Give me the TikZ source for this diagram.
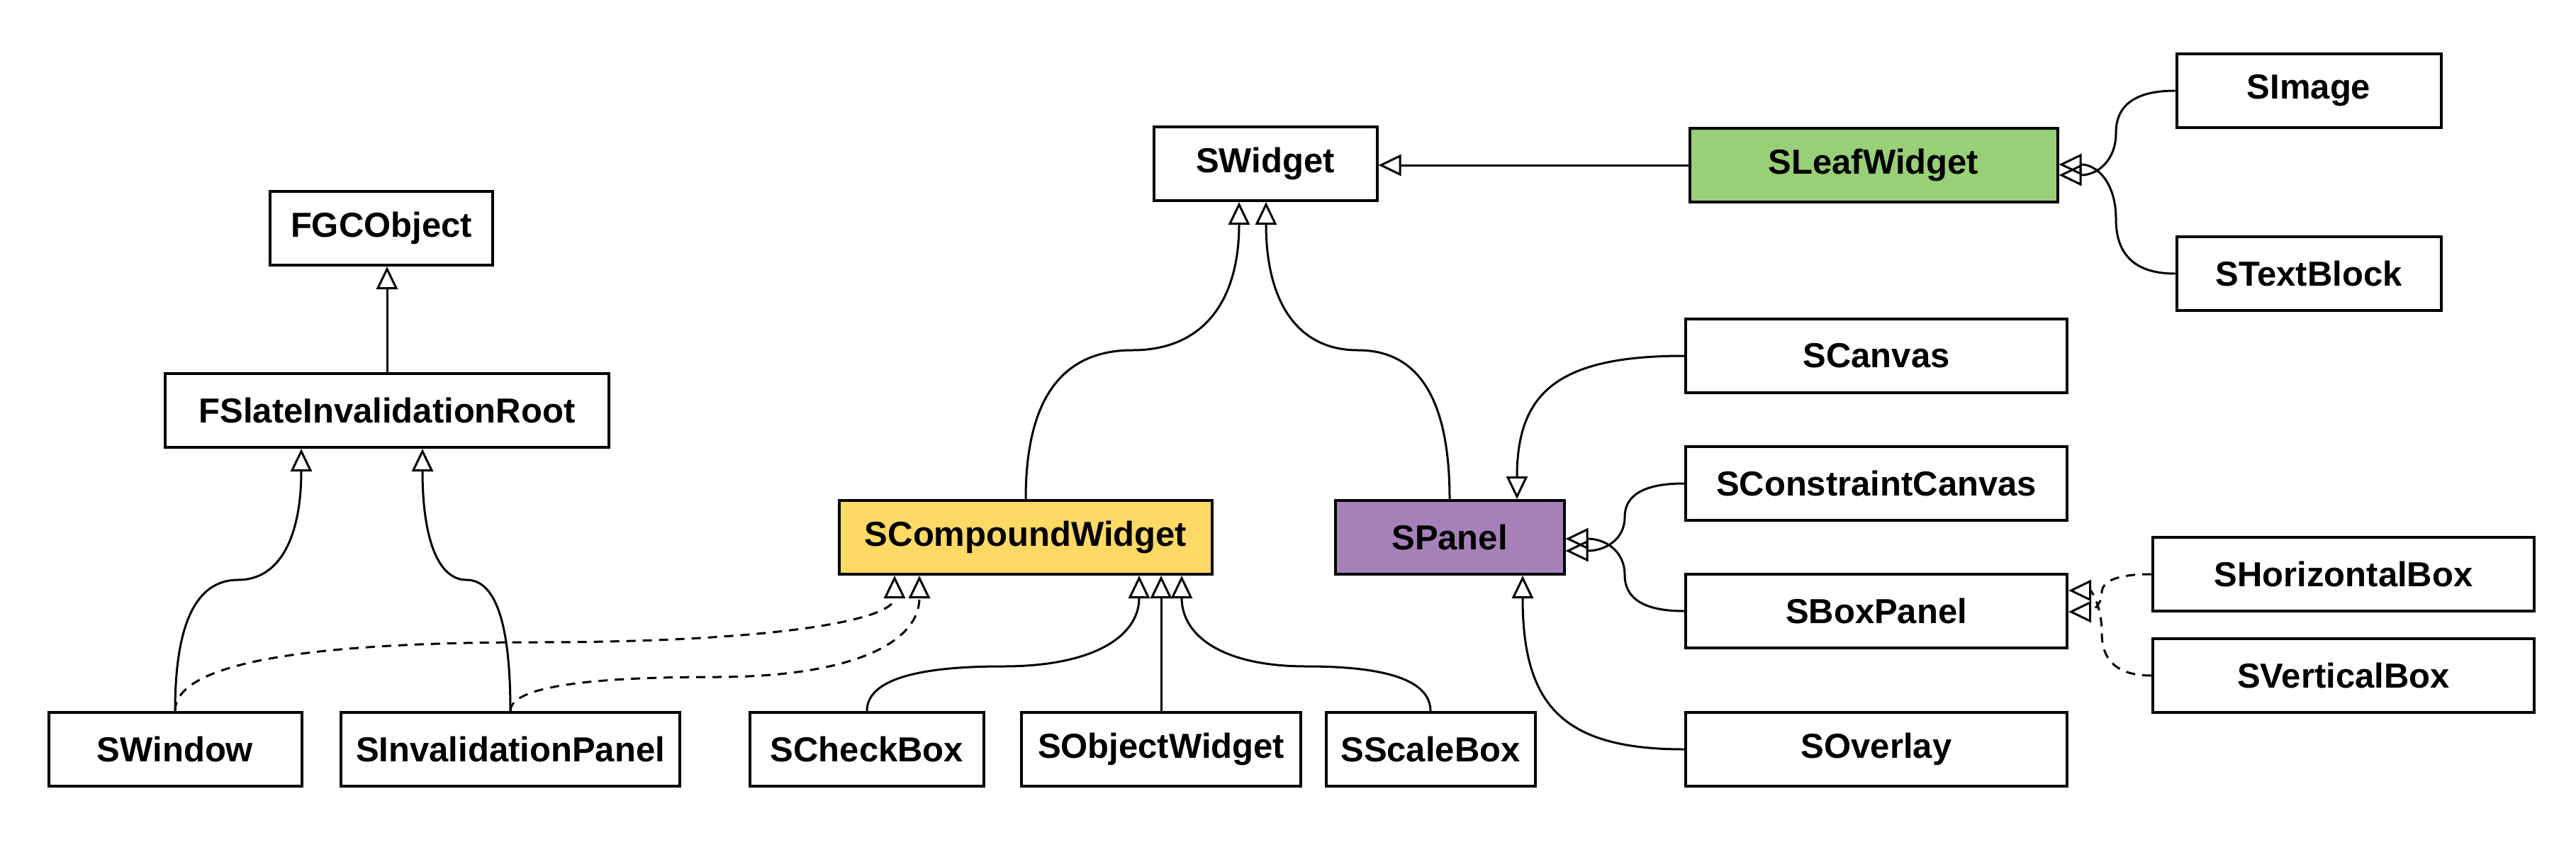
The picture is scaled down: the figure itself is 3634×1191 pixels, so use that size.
\documentclass[tikz,border=0pt]{standalone}
\usepackage{fontspec}
\setmainfont{Liberation Sans}
\usepackage{xcolor}
\usepackage{tikz}
\usetikzlibrary{arrows.meta}
\usetikzlibrary{calc}
\usetikzlibrary{positioning}

\definecolor{leafgreen}{HTML}{97D077}
\definecolor{compyellow}{HTML}{FFD966}
\definecolor{panelpurple}{HTML}{A680B8}

\tikzset{
  cls/.style={draw=black, line width=4pt, minimum height=104pt, inner sep=0pt,
              font=\bfseries\fontsize{49}{58}\selectfont},
  inh/.style={line width=3pt, -{Triangle[open, length=32pt, width=30pt]}},
  impl/.style={inh, dash pattern=on 13pt off 10pt}
}

% curved edge, vertical at both ends, bend at height #4
\newcommand{\vcurve}[4]{%
  \coordinate (mid) at ($(#2 |- 0,#4)!.5!(#3 |- 0,#4)$);
  \draw[#1] (#2) .. controls ($(#2)!2/3!(#2 |- mid)$) and ($(mid)!2/3!(#2 |- mid)$) .. (mid)
    .. controls ($(mid)!2/3!(#3 |- mid)$) and ($(#3)!2/3!(#3 |- mid)$) .. (#3);}
% curved edge, horizontal at both ends, bend at x #4
\newcommand{\hcurve}[4]{%
  \coordinate (mid) at ($(#2 -| #4,0)!.5!(#3 -| #4,0)$);
  \draw[#1] (#2) .. controls ($(#2)!2/3!(#2 -| mid)$) and ($(mid)!2/3!(#2 -| mid)$) .. (mid)
    .. controls ($(mid)!2/3!(#3 -| mid)$) and ($(#3)!2/3!(#3 -| mid)$) .. (#3);}
% curved edge, leaves horizontally, arrives vertically
\newcommand{\lcurve}[3]{%
  \draw[#1] (#2) .. controls ($(#2)!.75!(#3 |- #2)$) and ($(#3)!.75!(#3 |- #2)$) .. (#3);}

\begin{document}
\begin{tikzpicture}[x=1pt,y=1pt,yscale=-1,xscale=1]
\useasboundingbox (0,0) rectangle (3634,1191);

% Left tree
\node[cls, minimum width=314pt] (fgc) at (538,322) {FGCObject};
\node[cls, minimum width=626pt] (fsir) at (546,579) {FSlateInvalidationRoot};
\node[cls, minimum width=357pt] (win) at (247,1057) {SWindow};
\node[cls, minimum width=478pt] (inv) at (720,1057) {SInvalidationPanel};

% Widget tree
\node[cls, minimum width=315pt] (swid) at (1785,231) {SWidget};
\node[cls, minimum width=519pt, fill=leafgreen] (leaf) at (2643,233) {SLeafWidget};
\node[cls, minimum width=373pt] (img) at (3257,128) {SImage};
\node[cls, minimum width=373pt] (txt) at (3257,386) {STextBlock};
\node[cls, minimum width=526pt, fill=compyellow] (cmp) at (1447,758) {SCompoundWidget};
\node[cls, minimum width=323pt, fill=panelpurple] (pan) at (2045,758) {SPanel};

% Bottom row
\node[cls, minimum width=330pt] (chk) at (1223,1057) {SCheckBox};
\node[cls, minimum width=394pt] (obj) at (1638,1057) {SObjectWidget};
\node[cls, minimum width=295pt] (scl) at (2018,1057) {SScaleBox};

% Panel children
\node[cls, minimum width=538pt] (cnv) at (2647,502) {SCanvas};
\node[cls, minimum width=538pt] (con) at (2647,682) {SConstraintCanvas};
\node[cls, minimum width=538pt] (box) at (2647,862) {SBoxPanel};
\node[cls, minimum width=538pt] (ovl) at (2647,1057) {SOverlay};
\node[cls, minimum width=538pt] (hor) at (3306,810) {SHorizontalBox};
\node[cls, minimum width=538pt] (ver) at (3306,953) {SVerticalBox};

% arrow ports
\coordinate (fsirA) at (fsir.south -| 425,0);
\coordinate (fsirB) at (fsir.south -| 596,0);
\coordinate (cmpA) at (cmp.south -| 1262,0);
\coordinate (cmpB) at (cmp.south -| 1297,0);
\coordinate (cmpC) at (cmp.south -| 1607,0);
\coordinate (cmpD) at (cmp.south -| 1638,0);
\coordinate (cmpE) at (cmp.south -| 1667,0);
\coordinate (swidA) at (swid.south -| 1748,0);
\coordinate (swidB) at (swid.south -| 1786,0);
\coordinate (panT) at (pan.north -| 2140,0);
\coordinate (panB) at (pan.south -| 2148,0);
\coordinate (panR1) at (pan.east |- 0,760);
\coordinate (panR2) at (pan.east |- 0,777);
\coordinate (leafR1) at (leaf.east |- 0,232);
\coordinate (leafR2) at (leaf.east |- 0,247);
\coordinate (boxR1) at (box.east |- 0,833);
\coordinate (boxR2) at (box.east |- 0,863);

% Straight Lines
\draw[inh] (fsir.north) -- (fsir.north |- fgc.south);
\draw[inh] (obj.north) -- (cmpD);
\draw[inh] (leaf.west) -- (leaf.west -| swid.east);

% Curved Lines
\vcurve{inh}{win.north}{fsirA}{818}
\vcurve{inh}{inv.north}{fsirB}{818}
\vcurve{impl}{win.north}{cmpA}{906}
\vcurve{impl}{inv.north}{cmpB}{955}
\vcurve{inh}{chk.north}{cmpC}{940}
\vcurve{inh}{scl.north}{cmpE}{940}
\vcurve{inh}{cmp.north}{swidA}{494}
\vcurve{inh}{pan.north}{swidB}{494}
\hcurve{inh}{img.west}{leafR2}{2985}
\hcurve{inh}{txt.west}{leafR1}{2985}
\lcurve{inh}{cnv.west}{panT}
\hcurve{inh}{con.west}{panR2}{2292}
\hcurve{inh}{box.west}{panR1}{2292}
\lcurve{inh}{ovl.west}{panB}
\hcurve{impl}{hor.west}{boxR2}{2965}
\hcurve{impl}{ver.west}{boxR1}{2965}

\end{tikzpicture}
\end{document}
